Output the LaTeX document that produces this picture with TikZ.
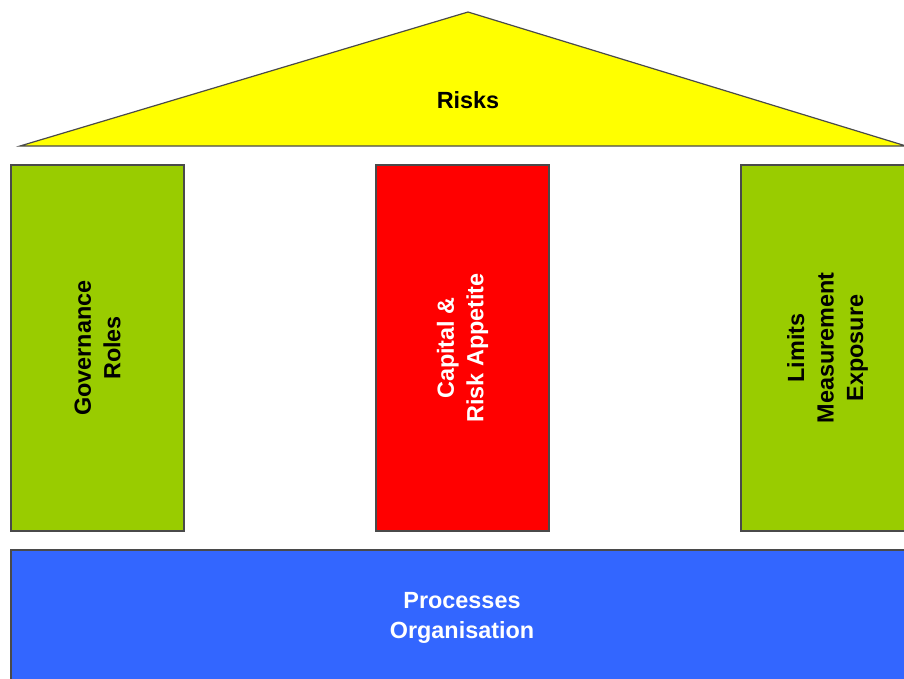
\documentclass[tikz,border=0pt]{standalone}
\usepackage{fontspec}
\setmainfont{Liberation Sans}
\usepackage{tikz}
\usetikzlibrary{positioning}
\usepackage{xcolor}
\definecolor{roofyellow}{HTML}{FFFF00}
\definecolor{pillargreen}{HTML}{99CC00}
\definecolor{pillarred}{HTML}{FF0000}
\definecolor{baseblue}{HTML}{3366FF}
\definecolor{edgegray}{HTML}{4A4A4A}

\tikzset{
    block/.style={draw=edgegray, line width=1.2pt, align=center, inner sep=0pt,
        font=\bfseries\fontsize{23.4}{29.5}\selectfont},
    pillar/.style={block, rotate=90, minimum width=366pt, minimum height=173pt}
}

\begin{document}
\begin{tikzpicture}[x=1pt, y=-1pt]
        \useasboundingbox (0,0) rectangle (904,678);
        \clip (0,0) rectangle (904,678);
        % roof
        \draw[fill=roofyellow, draw=edgegray, line width=1.2pt] (20,146) -- (468,12) -- (906,146) -- cycle;
        \node[font=\bfseries\fontsize{23.4}{29.5}\selectfont] (roof) at (468,100) {Risks};

        % pillars
        \node[pillar, fill=pillargreen] (governance) at (97.5,348) {Governance\\Roles};
        \node[pillar, fill=pillarred, text=white] (capital) at (462.5,348) {Capital \&\\Risk Appetite};
        \node[pillar, fill=pillargreen] (limits) at (827.5,348) {Limits\\Measurement\\Exposure};

        % base
        \node[block, fill=baseblue, text=white, minimum width=910pt, minimum height=150pt] (base) at (466,625) {};
        \node[font=\bfseries\fontsize{23.4}{29.5}\selectfont, text=white, align=center] (baselabel) at (462,618) {Processes\\Organisation};
    \end{tikzpicture}
\end{document}
